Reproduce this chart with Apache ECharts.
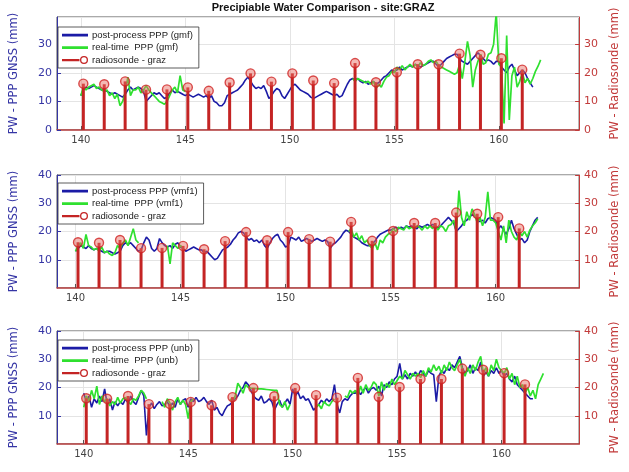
<!DOCTYPE html>
<html><head><meta charset="utf-8">
<script src="https://cdn.jsdelivr.net/npm/echarts@6/dist/echarts.min.js"></script>
<style>html,body{margin:0;padding:0;background:#fff}#c{width:629px;height:472px}</style>
</head><body><div id="c"></div>
<script>
// ---------- DATA ----------
const titleText = 'Precipiable Water Comparison - site:GRAZ';
const xTickValues = [140, 145, 150, 155, 160];
const firstDay = 140;           // sampling grid: 8 samples per day (3-hourly), day 140.0 .. 162.0
const samplesPerDay = 8;

// radiosonde launches
const rsTimes = [140.12,141.12,142.12,143.12,144.12,145.12,146.12,147.12,148.12,149.12,150.12,
                 151.12,152.12,153.12,154.12,155.12,156.12,157.12,158.12,159.12,160.12,161.12];
const rsValues = [16.2,16.0,17.0,14.1,14.2,14.9,13.7,16.6,19.8,16.9,19.8,
                  17.3,16.4,23.4,16.7,20.2,23.0,23.0,26.7,26.3,25.1,21.1];
const rsName = 'radiosonde - graz';

const _ = null;
// panel 1 : gmf
const gmfPost = [
 12,14,15,14.5,15,15.5,15,14.5,
 14,14,13.5,13,12.5,13,12.5,12,
 11.5,12.5,14,15,14,14.5,15,14.5,
 13.5,10,11,12,13,12.5,13,12,
 11,11.5,13,14,13,13.5,13,12.5,
 12,12.5,12,11.5,12,12.5,12,11.5,
 12,11,12,10,9.5,8.5,8.5,9.5,
 12,12.5,13,13.5,14,15,16,17.5,
 18.5,17,15.5,14.5,15,14.5,15.5,13.5,
 11,12,13.5,14.5,14,12,11,12.5,
 14,15.5,16,15,14,13.5,13,12.5,
 11.5,11,11.5,12,12.5,13,13.5,13,
 12.5,12,12.5,11.5,12,14,16,17.5,
 18,17.5,18,17,16.5,17,16,16.5,
 17,16,16.5,17.5,18.5,19,20,21,
 20.5,21,22,21,21.5,22,22.5,22,
 23,22.5,22,22.5,23,23.5,24,24,
 23,22,23,24,25,25.5,26,26.5,
 26.5,25,24,23.5,23,24,25,26,
 27,26,25,24,24.5,24,23,24,
 24,22,21,20,22,23,21,19,
 20,21,20,18,16.5,15,_,_,
 _];
const gmfRT = [
 12,15,14,15,15.5,16,14.5,15,
 14,13.5,14,12,13,11,12.5,8.5,
 10,13,18.5,12,14,14,15,13,
 14,15.5,14,13,12,11,10,9.5,
 9,10,12,14,15,13,19,14,
 13.5,_,_,_,_,_,_,_,
 _,_,_,_,_,_,_,_,
 _,_,_,_,_,_,_,_,
 _,_,_,_,_,_,_,_,
 _,_,_,_,_,_,_,_,
 _,_,_,_,_,_,_,_,
 _,_,_,_,_,_,_,_,
 _,_,_,_,_,_,_,_,
 18,17,18,17.5,17,16.5,17,16,
 17,14.5,16,15,17,18.5,19,20.5,
 20,22,21,22.5,21,22,23,22,
 23,22,23.5,22.5,23,24,24.5,23.5,
 24,22.5,22,21.5,21,20.5,20,19.5,
 20,23,18,24,31,26,15,21,
 24,26.5,23,23.5,26.5,27,30,41,
 23,22,2.3,33,3.5,19,22,15,
 17,20,16.5,18,16,18,20.5,22.3,
 24.5];

// panel 2 : vmf1
const vmfPost = [
 13,14,15,14.5,14,15,14,13.5,
 14,13.5,13,12.5,13,13,12.5,12,
 12.5,13,15,16,15.5,16,15,14,
 13,13.5,16,18,17,14,13,14,
 17.5,16,15,14.5,15,14,15.5,16,
 14.5,14,13,13.5,14,14.5,14,13.5,
 13.5,12.5,13,12,11,10,10.5,12,
 13.5,14,14.5,15.5,17,18,19.5,20,
 19.5,18,17,17.5,16.5,17,16,17,
 15,14,16,17.5,18.5,19,17,16,
 14.5,15,18,17.5,17,18,16.5,17,
 17.5,17,16.5,17,17.5,17,16.5,17,
 16.5,14,15.5,16,17,18,19.5,20.5,
 20,19,18,17.5,17,16,15.5,15,
 15,15.5,16.5,18,19,19.5,20,20.5,
 20.5,21,21.5,21,21.5,21,22,21.5,
 22,21.5,21,22,21.5,22,22.5,22,
 22.5,22,21,22,23,24,25,24,
 23,20,21,22,23.5,24,25,26,
 25.5,24,23.5,24,23,24.5,25,24.5,
 24,21,22,20.5,19,21,24,21,
 19,17,17.5,16,17,20,22,24,
 25];
const vmfRT = [
 13,15,16,14,19,15,14.5,13.5,
 14,13,14.5,12.5,13,12,11.5,12.5,
 15,14,16,17,15,18,21,17,
 16,_,_,_,_,_,_,_,
 _,_,_,15,8.5,16,15,14,
 15,14,_,_,_,_,_,_,
 _,_,_,_,_,_,_,_,
 _,_,_,_,_,_,_,_,
 _,_,_,_,_,_,_,_,
 _,_,_,_,_,_,_,_,
 _,_,_,_,_,_,_,_,
 _,_,_,_,_,_,_,_,
 _,_,_,_,_,_,_,_,
 20,21,18,19.5,17,18.5,16,17,
 15,14,16,13.5,17,16,18,19,
 19.5,21,20,21.5,21,20.5,22,21,
 21.5,21,22,21.5,20.5,22,21,22,
 21,22.5,20.5,22,21.5,20,22,22.5,
 24,20,34.5,25,22,27,24,28,
 26,23,25,22,25,34,24,24,
 23,20,17,22,16,24,20,18,
 17,20,18.5,20,18,20.5,22,23,
 24.5];

// panel 3 : unb
const unbPost = [
 18,15,17,13,16,14.5,17,15,
 19.5,14,16,12,15,13.5,15,14,
 16,14.5,17,15,14,16.5,19,17,
 3,13,14.5,12.5,14,15,13.5,14,
 15,13,14.5,13,16,14,15.5,16,
 13,16,15,16.5,15,15.5,16.5,15,
 14,15.5,12,13,11,10,12,13.5,
 14,15,16,17,19,20,22,21,
 19,17,16,15.5,17,14.5,15,16,
 15,12,14,15.5,13,14.5,16,14,
 19.5,17,18.5,16,17,15.5,16,14,
 12,13,14,15.5,14.5,16,15,16,
 21,14,11,15,16,15.5,17,18,
 18,19,17.5,19,20,18,19.5,20,
 19,20.5,17,21,20,22,21,23,
 24,28.5,23,24.5,23,25,24,25.5,
 24,26,25,24,26,25,24.5,15,
 24,26,25,27,26,28,27,29,
 31,27,25,26,28,25,27,26,
 29,24,25.5,24,26,25,27,25,
 26,24,25,23,22,24,21,20,
 19,18,17,16,16,_,_,_,
 _];
const unbRT = [
 13,17,15,19,16,20.5,14,17,
 15,16,13.5,15,14,16.5,14.5,16,
 16.5,15,14,16,15.5,17,19,18,
 16,_,_,_,_,_,15,13,
 16,14.5,12,15,16.5,14,15.5,14,
 9,15,16,_,_,_,_,_,
 _,_,_,_,_,_,_,_,
 16,15,17,21.5,20,18,21,20,
 19.8,19.7,19.6,19.5,19.5,19.4,19.3,19.2,
 19.1,19,19,14,13,15,12,14,
 _,_,_,_,_,_,_,_,
 _,13,14,12.5,15,14,13.5,15,
 16,_,_,_,17,16.5,19,18,
 19,17,20.5,18,21,19,20,22,
 21,17,22,19,21.5,20,23,21,
 22.5,24,23,26,24.5,23,25,24,
 25,23.5,26,24,27,25.5,28,26,
 27.5,25,28,26,29,27,26,28,
 30,26,24,27,25,28,26,29,
 31,25,27,24,28,26,30,27,
 26,25,27,23,25,21,24,20,
 21,18,20,17,19,16,21,23,
 25];

// ---------- STYLE / LAYOUT ----------
const BLUE_LINE = '#1b1ba6', GREEN_LINE = '#2fe02f', RED_STEM = '#c42424';
const BLUE_AX = '#3535a5', RED_AX = '#c23b3b', GRID_C = '#e4e4e4';
const LINE_ICON = 'path://M0,0h0.01v0.01h-0.01z M25.99,9.99h0.01v0.01h-0.01z M0,3.7h26v2.8h-26z';
const STEM_ICON = 'path://M0,0h0.01v0.01h-0.01z M25.99,9.99h0.01v0.01h-0.01z M0,3.9h17.5v2.4h-17.5z ' +
  'M26,5a4,4 0 1,0 -8,0a4,4 0 1,0 8,0z M24.7,5a2.7,2.7 0 1,1 -5.4,0a2.7,2.7 0 1,1 5.4,0z';

const panels = [
  {post: gmfPost, rt: gmfRT, postName: 'post-process PPP (gmf)', rtName: 'real-time  PPP (gmf)',
   left: 50, top: 17, xMin: 138.86, xMax: 163.84, yMax: 39.5, zeroLabel: true, legendTop: 27},
  {post: vmfPost, rt: vmfRT, postName: 'post-process PPP (vmf1)', rtName: 'real-time  PPP (vmf1)',
   left: 52, top: 175, xMin: 139.12, xMax: 163.97, yMax: 40, zeroLabel: false, legendTop: 183},
  {post: unbPost, rt: unbRT, postName: 'post-process PPP (unb)', rtName: 'real-time  PPP (unb)',
   left: 51, top: 331, xMin: 138.72, xMax: 163.71, yMax: 40, zeroLabel: false, legendTop: 340}
];

const times = gmfPost.map((v, i) => firstDay + i / samplesPerDay);
const pair = (arr) => times.map((t, i) => [t, arr[i] === null ? '-' : arr[i]]);
const rsData = rsTimes.map((t, i) => [t, rsValues[i]]);

const grid = [], xAxis = [], yAxis = [], series = [], legend = [];
panels.forEach((p, k) => {
  grid.push({left: p.left, right: 32, top: p.top, height: 113, show: true,
             borderColor: '#555', borderWidth: 1, backgroundColor: 'transparent'});
  xAxis.push({gridIndex: k, type: 'value', min: p.xMin, max: p.xMax,
    axisLine: {show: true, onZero: false, lineStyle: {color: '#b94040', width: 1.5}},
    axisTick: {show: true, inside: true, length: 4, customValues: xTickValues, lineStyle: {color: '#555'}},
    axisLabel: {customValues: xTickValues, color: '#444', fontSize: 10, margin: 5, fontFamily: 'DejaVu Sans'},
    splitLine: {show: true, lineStyle: {color: GRID_C, width: 1}}});
  const yCommon = {gridIndex: k, type: 'value', min: 0, max: p.yMax, interval: 10,
    nameLocation: 'middle', nameRotate: 90};
  yAxis.push(Object.assign({}, yCommon, {position: 'left', name: 'PW - PPP GNSS (mm)', nameGap: 37,
    nameTextStyle: {color: BLUE_AX, fontSize: 11.5, fontFamily: 'DejaVu Sans'},
    axisLine: {show: true, onZero: false, lineStyle: {color: BLUE_AX, width: 1}},
    axisTick: {show: true, inside: true, length: 4, lineStyle: {color: BLUE_AX}},
    axisLabel: {color: BLUE_AX, fontSize: 11, margin: 5, fontFamily: 'DejaVu Sans',
                showMinLabel: p.zeroLabel, showMaxLabel: p.yMax === 40},
    splitLine: {show: true, lineStyle: {color: GRID_C, width: 1}}}));
  yAxis.push(Object.assign({}, yCommon, {position: 'right', name: 'PW - Radiosonde (mm)', nameGap: 22,
    nameTextStyle: {color: RED_AX, fontSize: 11.5, fontFamily: 'DejaVu Sans'},
    axisLine: {show: true, onZero: false, lineStyle: {color: RED_AX, width: 1}},
    axisTick: {show: true, inside: true, length: 4, lineStyle: {color: RED_AX}},
    axisLabel: {color: RED_AX, fontSize: 11, margin: 5, fontFamily: 'DejaVu Sans',
                showMinLabel: p.zeroLabel, showMaxLabel: p.yMax === 40},
    splitLine: {show: false}}));
  series.push({type: 'line', name: p.postName, xAxisIndex: k, yAxisIndex: 2 * k, data: pair(p.post),
    showSymbol: false, symbol: 'none', color: BLUE_LINE, lineStyle: {color: BLUE_LINE, width: 1.6}, z: 2, animation: false});
  series.push({type: 'line', name: p.rtName, xAxisIndex: k, yAxisIndex: 2 * k, data: pair(p.rt),
    showSymbol: false, symbol: 'none', color: GREEN_LINE, lineStyle: {color: GREEN_LINE, width: 1.7}, z: 3, animation: false});
  series.push({type: 'bar', name: rsName, xAxisIndex: k, yAxisIndex: 2 * k + 1, data: rsData,
    barWidth: 3, color: RED_STEM, itemStyle: {color: RED_STEM}, z: 4, animation: false});
  series.push({type: 'scatter', name: rsName, xAxisIndex: k, yAxisIndex: 2 * k + 1, data: rsData,
    symbol: 'circle', symbolSize: 9, itemStyle: {color: 'rgba(232,110,100,0.6)', borderColor: '#d02222', borderWidth: 1.4},
    z: 5, animation: false});
  legend.push({left: 58, top: p.legendTop, orient: 'vertical', itemWidth: 26, itemHeight: 10, itemGap: 2.5,
    padding: [3, 6, 3, 4], backgroundColor: '#fff', borderColor: '#333', borderWidth: 0.8,
    selectedMode: false, itemStyle: {borderWidth: 0}, lineStyle: {width: 0},
    textStyle: {fontSize: 9.5, color: '#222', fontFamily: 'Liberation Sans', padding: [0, 0, 0, -1]},
    data: [{name: p.postName, icon: LINE_ICON}, {name: p.rtName, icon: LINE_ICON}, {name: rsName, icon: STEM_ICON}]});
});

const chart = echarts.init(document.getElementById('c'), null, {renderer: 'canvas'});
chart.setOption({
  animation: false,
  backgroundColor: '#fff',
  title: {text: titleText, left: 323, top: 2, padding: 0, textAlign: 'center',
          textStyle: {fontSize: 11, fontWeight: 'bold', color: '#111', fontFamily: 'Liberation Sans'}},
  grid, xAxis, yAxis, series, legend
});
</script></body></html>
